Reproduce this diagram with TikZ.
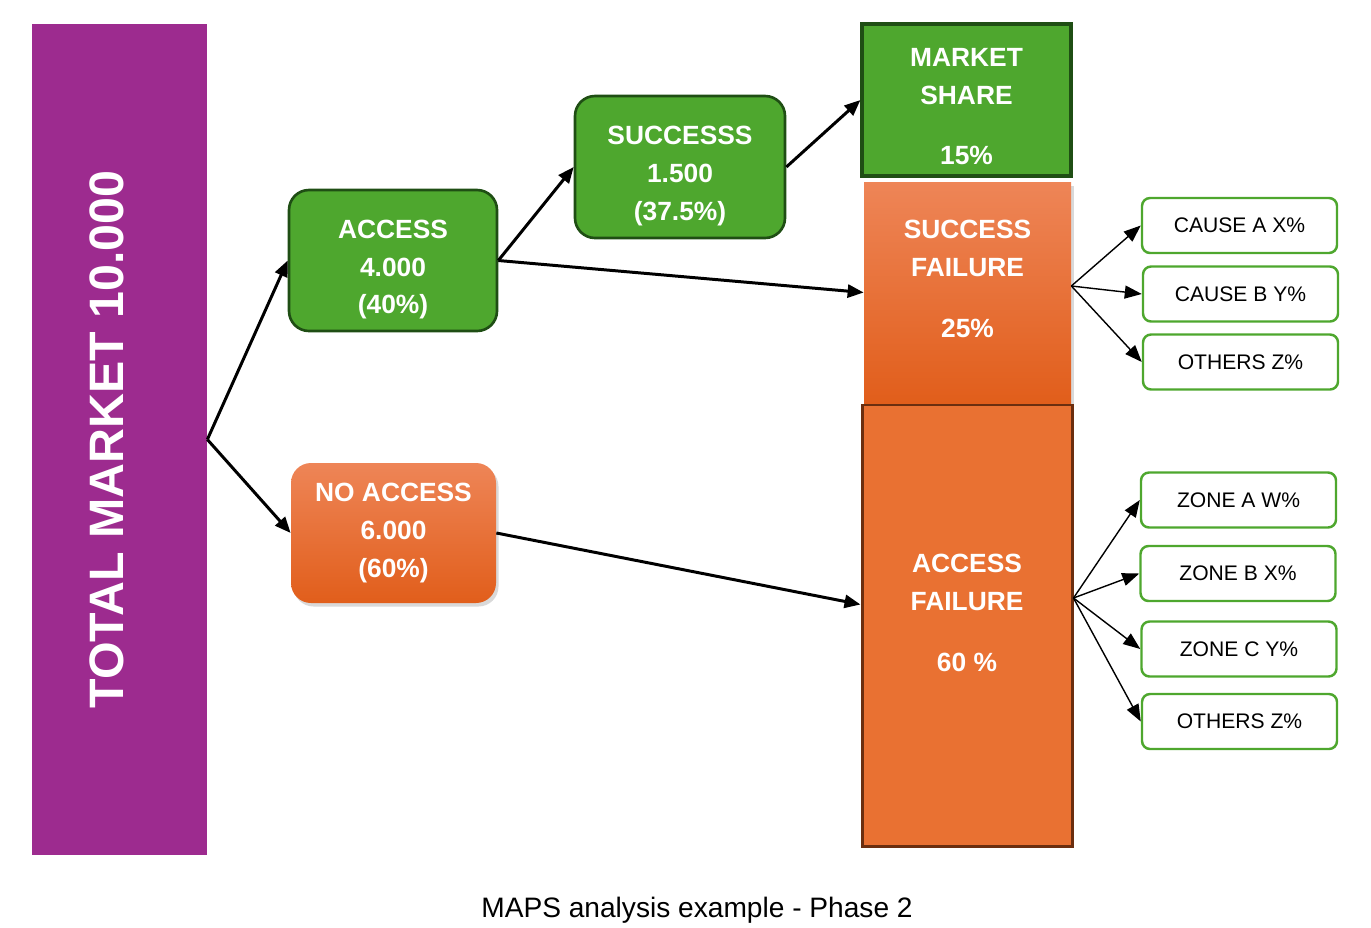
\documentclass[tikz,border=0pt]{standalone}
\usepackage{fontspec}
\setmainfont{Liberation Sans}
\usepackage{tikz}
\usetikzlibrary{arrows.meta,shadows}
\definecolor{mktpurple}{HTML}{9D2B8F}
\definecolor{okgreen}{HTML}{4EA72E}
\definecolor{darkgreen}{HTML}{1F4E14}
\definecolor{lightorange}{HTML}{EE8557}
\definecolor{deeporange}{HTML}{E15E1B}
\definecolor{flatorange}{HTML}{E97132}
\definecolor{brownline}{HTML}{6B2E0F}
\tikzstyle{boxtext}=[text=white,align=center,inner sep=0pt,
                     font=\bfseries\fontsize{15}{21.5}\selectfont]
\tikzstyle{greenbox}=[boxtext,rectangle,rounded corners=0.4cm,fill=okgreen,
                      draw=darkgreen,line width=1.5pt,text depth=0pt]
\tikzstyle{orangebox}=[boxtext,rectangle,top color=lightorange,
                       bottom color=deeporange,
                       drop shadow={shadow xshift=0.05cm,shadow yshift=-0.07cm,
                                    opacity=0.3}]
\tikzstyle{causebox}=[rectangle,rounded corners=0.16cm,draw=okgreen,fill=white,
                      line width=1.4pt,minimum width=3.9cm,minimum height=1.1cm,
                      font=\fontsize{12}{14}\selectfont]
\tikzstyle{bigarrow}=[line width=1.7pt,-{Triangle[length=0.32cm,width=0.26cm]}]
\tikzstyle{thinarrow}=[line width=0.8pt,-{Triangle[length=0.34cm,width=0.26cm]}]

\begin{document}
\begin{tikzpicture}
    \newcommand{\gap}{0.46cm}
    \newcommand{\lift}{\rule{0pt}{0.62cm}}
    \useasboundingbox (0,0) rectangle (27.42,-18.56);
    \node (total) at (2.39,-8.79) [rectangle,fill=mktpurple,rotate=90,
          minimum width=16.62cm,minimum height=3.5cm,inner sep=0pt,
          text=white,text depth=0.5cm,font=\bfseries\fontsize{27.5}{30}\selectfont]
          {TOTAL MARKET 10.000};
    \node (access) at (7.86,-5.21) [greenbox,minimum width=4.16cm,minimum height=2.82cm]
          {\lift ACCESS\\4.000\\(40\%)};
    \node (noaccess) at (7.87,-10.66) [orangebox,rounded corners=0.4cm,
          minimum width=4.1cm,minimum height=2.8cm]
          {NO ACCESS\\6.000\\(60\%)};
    \node (success) at (13.6,-3.34) [greenbox,minimum width=4.2cm,minimum height=2.84cm]
          {\lift SUCCESSS\\1.500\\(37.5\%)};
    \node (share) at (19.33,-2.0) [greenbox,rounded corners=0pt,line width=1.8pt,
          minimum width=4.18cm,minimum height=3.04cm]
          {\lift MARKET\\SHARE\\[\gap]15\%};
    \node (sfail) at (19.35,-5.85) [orangebox,minimum width=4.14cm,minimum height=4.42cm,
          text depth=0.55cm]
          {SUCCESS\\FAILURE\\[\gap]25\%};
    \node (afail) at (19.34,-12.51) [boxtext,rectangle,fill=flatorange,draw=brownline,
          line width=1.7pt,minimum width=4.2cm,minimum height=8.82cm,text depth=0.5cm]
          {ACCESS\\FAILURE\\[\gap]60 \%};
    \node (causea) at (24.79,-4.51) [causebox]{CAUSE A X\%};
    \node (causeb) at (24.81,-5.88) [causebox]{CAUSE B Y\%};
    \node (causez) at (24.81,-7.24) [causebox]{OTHERS Z\%};
    \node (zonea) at (24.77,-10.0) [causebox]{ZONE A W\%};
    \node (zoneb) at (24.76,-11.47) [causebox]{ZONE B X\%};
    \node (zonec) at (24.78,-12.98) [causebox]{ZONE C Y\%};
    \node (zonez) at (24.79,-14.43) [causebox]{OTHERS Z\%};
    \node (caption) at (13.94,-18.2) [font=\fontsize{16}{18}\selectfont]
          {MAPS analysis example - Phase 2};
    \coordinate (sfan) at ([yshift=0.13cm]sfail.east);
    \coordinate (afan) at ([yshift=0.55cm]afail.east);
    % main flow
    \draw[bigarrow] (total.south) -- (access.west);
    \draw[bigarrow] (total.south) -- (noaccess.west);
    \draw[bigarrow] (access.east) -- (success.west);
    \draw[bigarrow] (access.east) -- (sfail.west);
    \draw[bigarrow] (success.east) -- (share.west);
    \draw[bigarrow] (noaccess.east) -- ([yshift=0.42cm]afail.west);
    % breakdowns
    \foreach \c in {causea,causeb,causez}
      \draw[thinarrow] (sfan) -- (\c.west);
    \foreach \z in {zonea,zoneb,zonec,zonez}
      \draw[thinarrow] (afan) -- (\z.west);
\end{tikzpicture}
\end{document}
